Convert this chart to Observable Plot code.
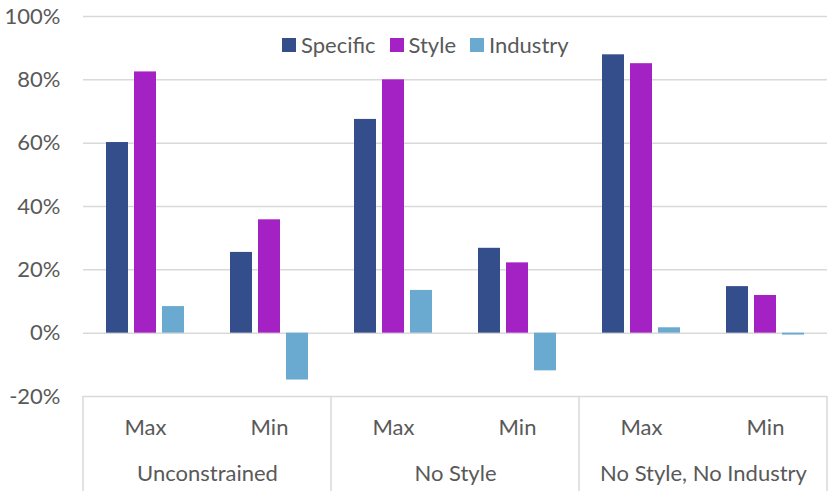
<!DOCTYPE html>
<html>
<head>
<meta charset="utf-8">
<script src="https://cdn.jsdelivr.net/npm/d3@7"></script>
<script src="https://cdn.jsdelivr.net/npm/@observablehq/plot@0.6"></script>
<style>
  body { margin: 0; background: #fff; }
  #wrap { position: relative; width: 833px; height: 491px; font-family: Lato, "Open Sans", sans-serif; }
  #legend { position: absolute; left: 282px; top: 28px; }
  .lg-swatch { margin-right: 14px !important; color: #595959; }
  .lg-swatch > svg { margin-right: 5px !important; }
</style>
</head>
<body>
<div id="wrap"><div id="chart"></div><div id="legend"></div></div>
<script>
const groups = ["Unconstrained", "No Style", "No Style, No Industry"];
const levels = ["Max", "Min"];
const series = ["Specific", "Style", "Industry"];
const colors = ["#344D8B", "#A421C3", "#6AAAD1"];
const specific = [0.602, 0.255, 0.675, 0.268, 0.879, 0.147];
const style = [0.825, 0.358, 0.800, 0.222, 0.851, 0.119];
const industry = [0.084, -0.148, 0.135, -0.119, 0.017, -0.006];
const yTicks = [-0.2, 0, 0.2, 0.4, 0.6, 0.8, 1.0];

const keys = groups.flatMap(g => levels.map(l => g + "|" + l));
const valuesBySeries = {Specific: specific, Style: style, Industry: industry};
const data = keys.flatMap((k, i) => series.map(s => ({key: k, series: s, value: valuesBySeries[s][i]})));

const textColor = "#595959";
const fontSize = 22;

const chart = Plot.plot({
  width: 833,
  height: 491,
  marginLeft: 81,
  marginRight: 4,
  marginTop: 16,
  marginBottom: 95,
  style: {fontFamily: "Lato, 'Open Sans', sans-serif", fontSize: fontSize + "px", color: textColor, background: "#fff"},
  fx: {domain: keys, padding: 0},
  x: {domain: series, paddingInner: 0.2, paddingOuter: 0.8, axis: null},
  y: {domain: [-0.2, 1.0]},
  color: {domain: series, range: colors},
  marks: [
    Plot.gridY(yTicks, {stroke: "#d9d9d9", strokeOpacity: 1, strokeWidth: 1.5}),
    Plot.barY(data, {fx: "key", x: "series", y: "value", fill: "series"}),
    Plot.axisY(yTicks, {tickSize: 0, tickPadding: 23, tickFormat: d => Math.round(d * 100) + "%", fill: textColor, fontSize, label: null}),
    Plot.axisFx({anchor: "bottom", tickSize: 0, tickPadding: 31, lineAnchor: "middle", tickFormat: d => d.split("|")[1], fill: textColor, fontSize, label: null}),
    Plot.text(groups, {fx: g => g + "|Max", text: d => d, frameAnchor: "bottom-right", textAnchor: "middle", lineAnchor: "middle", dy: 77, fill: textColor, fontSize})
  ]
});
document.getElementById("chart").appendChild(chart);

// multi-level category separators, positioned through the fx scale
const fx = chart.scale("fx");
const svg = d3.select(chart);
const bottomY = 491 - 95;
const edges = groups.map(g => fx.apply(g + "|Max"));
edges.push(fx.apply(keys[keys.length - 1]) + fx.bandwidth);
svg.append("g").selectAll("line").data(edges).join("line")
  .attr("x1", d => d).attr("x2", d => d)
  .attr("y1", bottomY).attr("y2", 491)
  .attr("stroke", "#d9d9d9").attr("stroke-width", 1.5);

const legend = Plot.legend({
  color: {domain: series, range: colors},
  swatchSize: 14,
  className: "lg",
  style: {fontFamily: "Lato, 'Open Sans', sans-serif", fontSize: fontSize + "px", color: textColor}
});
document.getElementById("legend").appendChild(legend);
</script>
</body>
</html>
